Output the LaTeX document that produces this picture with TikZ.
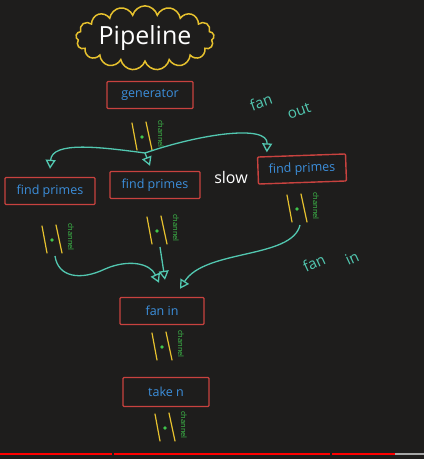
\documentclass[tikz,border=0pt]{standalone}
\usepackage{fontspec}
\setmainfont{Open Sans}
\usetikzlibrary{arrows.meta,shapes.symbols,calc}

\definecolor{board}{HTML}{1E1D1C}
\definecolor{chalkred}{HTML}{C8423F}
\definecolor{chalkblue}{HTML}{3C8FDC}
\definecolor{chalkteal}{HTML}{52C7B0}
\definecolor{chalkyellow}{HTML}{E6C12E}
\definecolor{chalkgreen}{HTML}{3FC44C}

\tikzset{
  stage/.style={draw=chalkred, line width=1.4pt, rounded corners=1pt,
    minimum width=86pt, minimum height=27pt, text=chalkblue,
    font=\fontsize{12.5}{14}\selectfont},
  flow/.style={chalkteal, line width=1.3pt,
    -{Triangle[open, length=9pt, width=10pt]}},
  note/.style={text=chalkteal, inner sep=1pt, font=\fontsize{15}{17}\selectfont},
  chan/.pic={
    \draw[chalkyellow, line width=1.2pt, line cap=round] (-10,14) -- (-5,-13);
    \draw[chalkyellow, line width=1.2pt, line cap=round] (4,15) -- (10,-13);
    \fill[chalkgreen] (0,0) circle (1.9);
    \node[rotate=-90, text=chalkgreen, inner sep=0pt,
      font=\fontsize{7.5}{8}\selectfont] at (19,3) {channel};
    \coordinate (-out) at (3,-16);
  }
}

\begin{document}
\begin{tikzpicture}[x=1pt, y=1pt]
  \fill[board] (0,0) rectangle (424,459);
  \useasboundingbox (0,0) rectangle (424,459);

  % title
  \node[cloud, cloud puffs=17, aspect=2.9, draw=chalkyellow, line width=1.5pt,
    minimum width=136pt, minimum height=46pt, text=white, inner sep=1pt,
    font=\fontsize{25}{27}\selectfont] (title) at (145,421) {Pipeline};

  % stages
  \node[stage] (gen) at (150,364) {generator};
  \node[stage, minimum width=90pt] (fp1) at (50,268) {find primes};
  \node[stage, minimum width=90pt] (fp2) at (155,274) {find primes};
  \node[stage, minimum width=88pt, rotate=2] (fp3) at (302,290) {find primes};
  \node[stage, minimum width=84pt] (fanin) at (162,148) {fan in};
  \node[stage, minimum width=86pt, minimum height=29pt] (take) at (166,67) {take n};

  \node[text=white, font=\fontsize{16}{18}\selectfont] (slow) at (231,281) {slow};

  % channels
  \pic (ch0) at (142,322) {chan};
  \pic (ch1) at (52,219) {chan};
  \pic (ch2) at (157,228) {chan};
  \pic (ch3) at (297,250) {chan};
  \pic (ch4) at (162,112) {chan};
  \pic (ch5) at (165,31) {chan};

  % fan out
  \draw[flow] (ch0-out) .. controls (100,312) and (52,318) .. ([yshift=8pt]fp1.north);
  \draw[flow] (ch0-out) -- ([xshift=-5pt, yshift=5pt]fp2.north);
  \draw[flow] (ch0-out) .. controls (200,325) and (268,335) .. ([xshift=10pt, yshift=4pt]fp3.north west);
  \node[note, rotate=20] (fan1) at (261,357) {fan};
  \node[note, rotate=20] (out1) at (299,348) {out};

  % fan in
  \coordinate (in1) at ([xshift=-3pt, yshift=14pt]fanin.north);
  \coordinate (in2) at ([xshift=3pt, yshift=17pt]fanin.north);
  \coordinate (in3) at ([xshift=18pt, yshift=8pt]fanin.north);
  \draw[flow] (ch1-out) .. controls (58,182) and (80,178) .. (105,190)
    .. controls (128,200) and (150,196) .. (in1);
  \draw[flow] (ch2-out) -- (in2);
  \draw[flow] (ch3-out) .. controls (292,200) and (205,210) .. (in3);
  \node[note, rotate=25] (fan2) at (314,196) {fan};
  \node[note, rotate=25] (in4) at (352,201) {in};

  % video progress bar
  \fill[red] (0,3.5) rectangle (112,6);
  \fill[red] (114,3.5) rectangle (330,6);
  \fill[red] (332,3.5) rectangle (395,6);
  \fill[gray!70] (395,3.5) rectangle (424,6);
\end{tikzpicture}
\end{document}
